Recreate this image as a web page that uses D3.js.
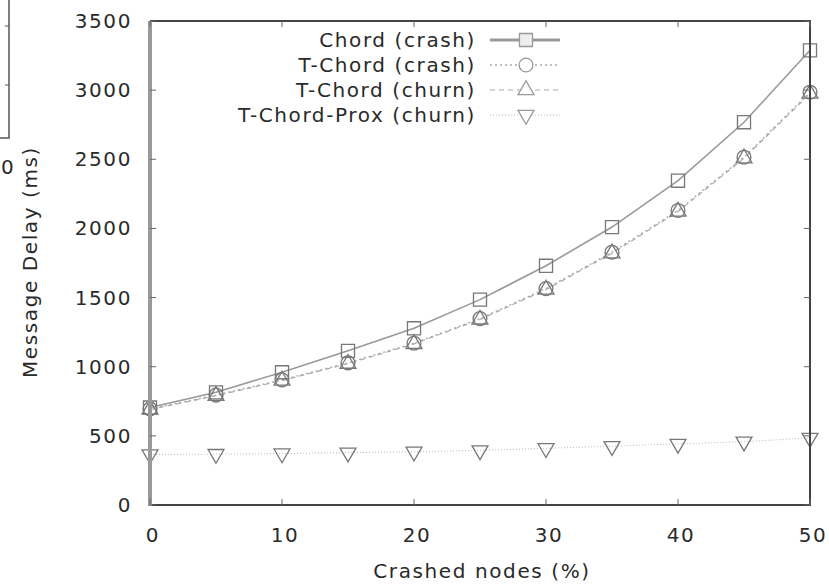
<!DOCTYPE html>
<html>
<head>
<meta charset="utf-8">
<script src="https://cdn.jsdelivr.net/npm/d3@7"></script>
<style>
  body { margin: 0; background: #fff; }
  svg text { font-family: "DejaVu Sans", sans-serif; fill: #2a2a2a; font-size: 20px; letter-spacing: 1.6px; }
</style>
</head>
<body>
<div id="chart"></div>
<script>
// crashed nodes (%)
const crashed = [0, 5, 10, 15, 20, 25, 30, 35, 40, 45, 50];

// message delay (ms) per series
const chordCrash = [705, 815, 960, 1115, 1278, 1485, 1730, 2010, 2345, 2768, 3288];
const tchordCrash = [695, 795, 905, 1028, 1170, 1348, 1565, 1828, 2130, 2515, 2985];
const tchordChurn = [690, 790, 900, 1022, 1165, 1342, 1558, 1820, 2122, 2508, 2975];
const tchordProxChurn = [365, 368, 372, 378, 385, 395, 410, 425, 442, 458, 485];

const seriesNames = ["Chord (crash)", "T-Chord (crash)", "T-Chord (churn)", "T-Chord-Prox (churn)"];
const yTicks = [0, 500, 1000, 1500, 2000, 2500, 3000, 3500];
const xTicks = [0, 10, 20, 30, 40, 50];

const W = 829, H = 584;
const margin = {left: 150, right: 19, top: 21, bottom: 79};

const svg = d3.select("#chart").append("svg")
    .attr("width", W)
    .attr("height", H);

const x = d3.scaleLinear().domain([0, 50]).range([margin.left, W - margin.right]);
const y = d3.scaleLinear().domain([0, 3500]).range([H - margin.bottom, margin.top]);

// fragment of the neighbouring figure at the left edge
const frag = svg.append("g").attr("stroke", "#555").attr("fill", "none");
frag.append("path").attr("d", "M9,0 V138 H0").attr("stroke-width", 1.5);
frag.append("path").attr("d", "M9,26 H5 M9,85 H5").attr("stroke-width", 1);
svg.append("text").attr("x", 1).attr("y", 174).style("letter-spacing", "0").text("0");

// series
const series = [
  {name: seriesNames[0], values: chordCrash, dash: null, width: 1.6, color: "#999",
   symbol: d3.symbolSquare, size: 170, rot: 0},
  {name: seriesNames[1], values: tchordCrash, dash: "2,3", width: 1.4, color: "#aaa",
   symbol: d3.symbolCircle, size: 150, rot: 0},
  {name: seriesNames[2], values: tchordChurn, dash: "5,4", width: 1.2, color: "#aaa",
   symbol: d3.symbolTriangle, size: 110, rot: 0},
  {name: seriesNames[3], values: tchordProxChurn, dash: "1,2", width: 1, color: "#bbb",
   symbol: d3.symbolTriangle, size: 110, rot: 180}
];

const line = d3.line()
    .x((d, i) => x(crashed[i]))
    .y(d => y(d));

series.forEach(s => {
  svg.append("path")
      .datum(s.values)
      .attr("fill", "none")
      .attr("stroke", s.color)
      .attr("stroke-width", s.width)
      .attr("stroke-dasharray", s.dash)
      .attr("d", line);
});

series.forEach(s => {
  svg.append("g")
      .selectAll("path")
      .data(s.values)
      .join("path")
      .attr("d", d3.symbol().type(s.symbol).size(s.size))
      .attr("transform", (d, i) => `translate(${x(crashed[i])},${y(d)}) rotate(${s.rot})`)
      .attr("fill", "none")
      .attr("stroke", "#777")
      .attr("stroke-width", 1.3);
});

// frame
const x0 = x(0), x1 = x(50), y0 = y(0), y1 = y(3500);
svg.append("path")
    .attr("d", `M${x0},${y1} H${x1} V${y0} H${x0}`)
    .attr("fill", "none")
    .attr("stroke", "#444")
    .attr("stroke-width", 2);
svg.append("line")
    .attr("x1", x0).attr("x2", x0).attr("y1", y1).attr("y2", y0 + 1)
    .attr("stroke", "#999")
    .attr("stroke-width", 4);

// ticks (mirrored, inward)
const tk = svg.append("g").attr("stroke", "#666").attr("stroke-width", 1);
yTicks.forEach(v => {
  tk.append("line").attr("x1", x0).attr("x2", x0 + 6).attr("y1", y(v)).attr("y2", y(v));
  tk.append("line").attr("x1", x1).attr("x2", x1 - 6).attr("y1", y(v)).attr("y2", y(v));
});
xTicks.forEach(v => {
  tk.append("line").attr("x1", x(v)).attr("x2", x(v)).attr("y1", y0).attr("y2", y0 - 6);
  tk.append("line").attr("x1", x(v)).attr("x2", x(v)).attr("y1", y1).attr("y2", y1 + 6);
});

// tick labels
svg.append("g").selectAll("text")
    .data(yTicks)
    .join("text")
    .attr("x", x0 - 18)
    .attr("y", d => y(d) + 7)
    .attr("text-anchor", "end")
    .text(d => d);

svg.append("g").selectAll("text")
    .data(xTicks)
    .join("text")
    .attr("x", d => x(d) + 3)
    .attr("y", y0 + 37)
    .attr("text-anchor", "middle")
    .text(d => d);

// axis titles
svg.append("text")
    .attr("x", 482)
    .attr("y", 578)
    .attr("text-anchor", "middle")
    .text("Crashed nodes (%)");

svg.append("text")
    .attr("transform", `translate(37,262) rotate(-90)`)
    .attr("text-anchor", "middle")
    .text("Message Delay (ms)");

// legend
const legend = svg.append("g");
series.forEach((s, i) => {
  const ly = 40 + i * 25;
  legend.append("text")
      .attr("x", 476)
      .attr("y", ly + 7)
      .attr("text-anchor", "end")
      .text(s.name);
  legend.append("line")
      .attr("x1", 490).attr("x2", 560)
      .attr("y1", ly).attr("y2", ly)
      .attr("stroke", s.color)
      .attr("stroke-width", i === 0 ? 3 : s.width)
      .attr("stroke-dasharray", s.dash);
  legend.append("path")
      .attr("d", d3.symbol().type(s.symbol).size(s.size))
      .attr("transform", `translate(526,${ly}) rotate(${s.rot})`)
      .attr("fill", i === 0 ? "#eee" : "#fff")
      .attr("stroke", "#999")
      .attr("stroke-width", 1.3);
});
</script>
</body>
</html>
